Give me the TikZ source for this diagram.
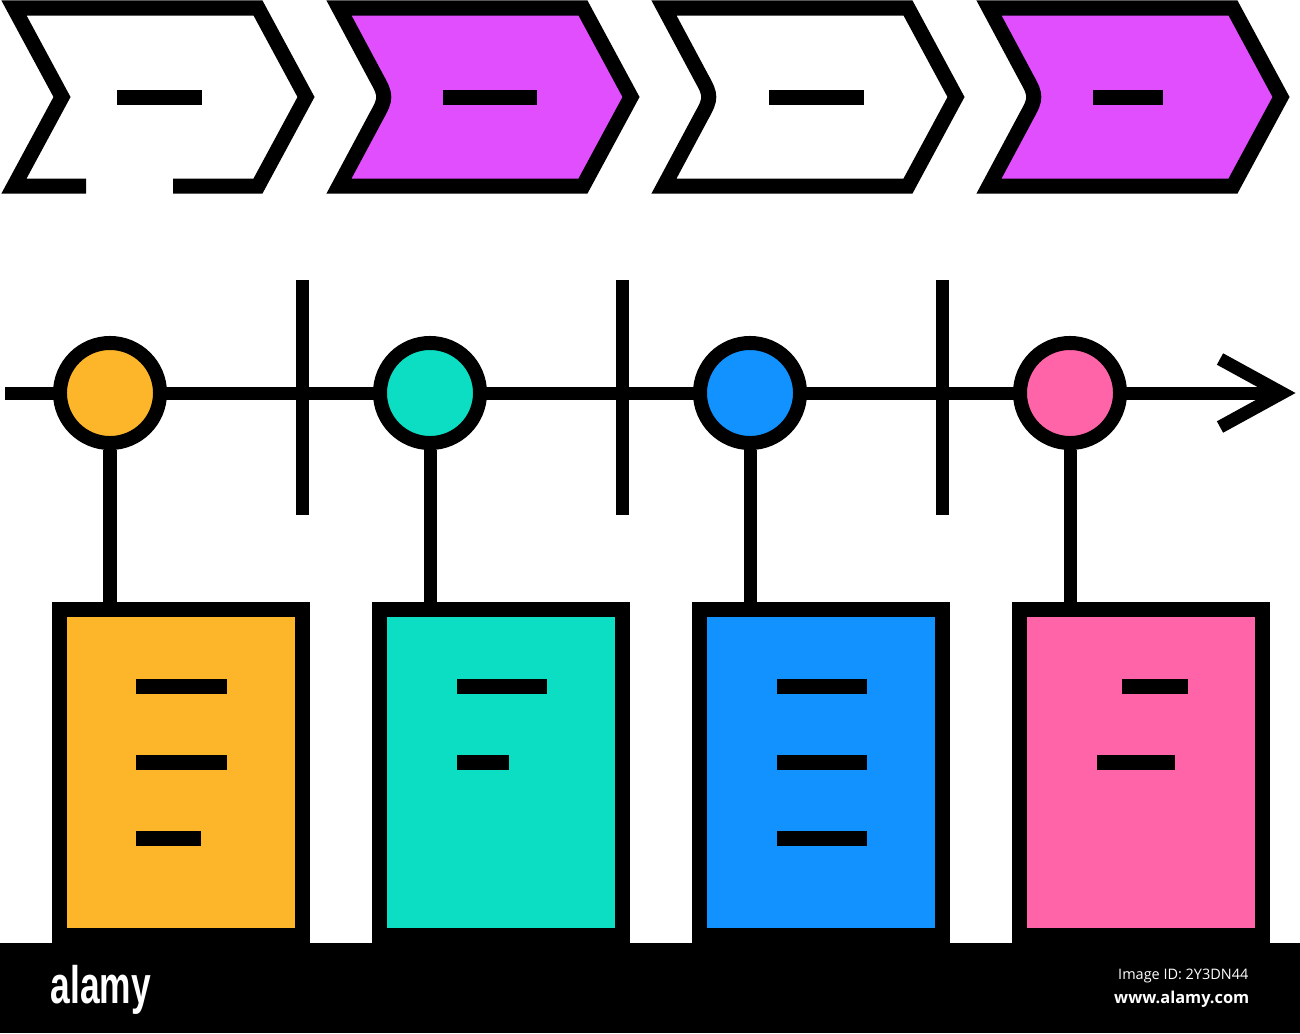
\documentclass[tikz,border=0pt]{standalone}
\usepackage{fontspec}
\setmainfont{Liberation Sans}
\newfontfamily\stampfont{Open Sans}
\definecolor{stageorange}{HTML}{FDB52A}
\definecolor{stageteal}{HTML}{0CDEC4}
\definecolor{stageblue}{HTML}{1192FF}
\definecolor{stagepink}{HTML}{FF64A8}
\definecolor{stagemagenta}{HTML}{E04EFE}
\tikzstyle{chevron}=[draw=black,line width=0.15cm,line join=miter,miter limit=10]
\tikzstyle{barline}=[draw=black,line width=0.15cm]
\tikzstyle{axisline}=[draw=black,line width=0.13cm]
\tikzstyle{milestone}=[circle,draw=black,line width=0.14cm,minimum size=1.0cm,inner sep=0pt]
\tikzstyle{card}=[rectangle,draw=black,line width=0.15cm,minimum width=2.42cm,minimum height=3.25cm,inner sep=0pt]
\tikzstyle{stamp}=[text=white,inner sep=0pt]
\begin{document}
\begin{tikzpicture}[x=0.01cm,y=-0.01cm]
\def \chevstep {325};
\def \cardstep {320};
\def \axisy {393};

\useasboundingbox (0,0) rectangle (1300,1033);

% process chevrons
\draw[chevron] (86,186) -- (14,186) -- (62,97) -- (14,8) -- (258,8) -- (306,97) -- (258,186) -- (173,186);
\foreach \i/\col in {1/stagemagenta,2/white,3/stagemagenta} {
	\draw[chevron,fill=\col] (\i*\chevstep+14,8) -- (\i*\chevstep+258,8) -- (\i*\chevstep+306,97)
	-- (\i*\chevstep+258,186) -- (\i*\chevstep+14,186) -- (\i*\chevstep+52,115)
	.. controls (\i*\chevstep+61,99) and (\i*\chevstep+61,95) .. (\i*\chevstep+52,79) -- cycle;
};
\foreach \a/\b in {117/202,443/537,769/864,1093/1163} {
	\draw[barline] (\a,97) -- (\b,97);
};

% time axis
\coordinate (axisstart) at (5,\axisy);
\coordinate (axisend) at (1282,\axisy);
\draw[axisline] (axisstart) -- (axisend);
\draw[axisline,line join=miter] (axisend) ++(-62,-34) -- (axisend) -- ++(-62,34);

\foreach \x in {302,622,942} {
	\draw[axisline] (\x,280) -- (\x,515);
};

\foreach \i/\col in {1/stageorange,2/stageteal,3/stageblue,4/stagepink} {
	\node[milestone,fill=\col] (m\i) at ({(\i-1)*\cardstep+110},\axisy) {};
	\node[card,fill=\col] (card\i) at ({(\i-1)*\cardstep+181},772.5) {};
	\draw[axisline] (m\i) -- (m\i |- card\i.north);
};

% text lines on the cards
\foreach \y/\a/\b in {686/136/227,762/136/227,838/136/201,686/457/547,762/457/509,
	686/777/867,762/777/867,838/777/867,686/1122/1188,762/1097/1175} {
	\draw[barline] (\a,\y) -- (\b,\y);
};

% stock bar
\fill[black] (0,943) rectangle (1300,1033);
\node[stamp,anchor=base west,font=\bfseries\fontsize{15}{15}\selectfont] (brand) at (50,1003) {\scalebox{0.67}[1]{alamy}};
\node[stamp,anchor=base east,font=\stampfont] (imageid) at (1249,979) {\resizebox{1.30cm}{!}{Image ID: 2Y3DN44}};
\node[stamp,anchor=base east,font=\stampfont\bfseries] (site) at (1250,1003) {\resizebox{1.35cm}{!}{www.alamy.com}};

\end{tikzpicture}
\end{document}
